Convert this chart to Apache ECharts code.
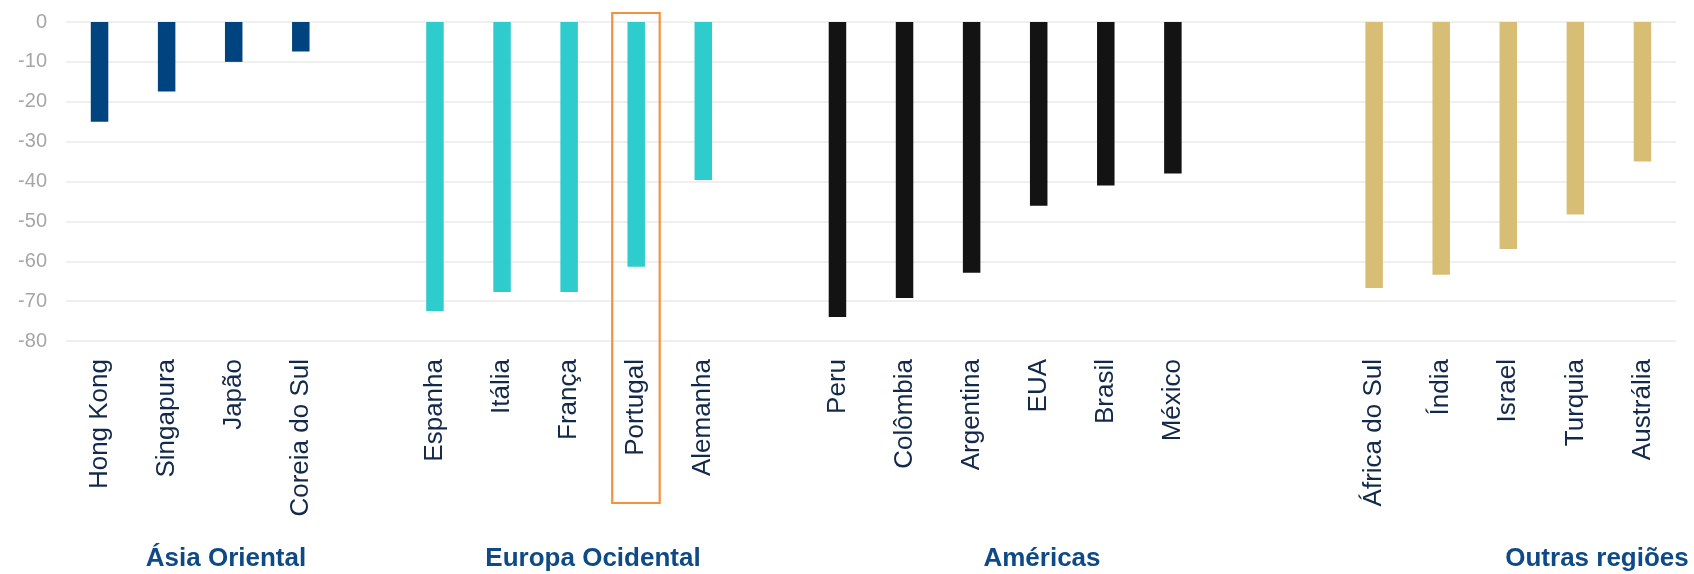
<!DOCTYPE html>
<html>
<head>
<meta charset="utf-8">
<script src="https://cdn.jsdelivr.net/npm/echarts@6/dist/echarts.min.js"></script>
<style>
  html, body { margin: 0; padding: 0; background: #ffffff; }
  #chart { width: 1694px; height: 574px; }
</style>
</head>
<body>
<div id="chart"></div>
<script>
// Countries per region, in drawing order
const asiaNames = ['Hong Kong', 'Singapura', 'Japão', 'Coreia do Sul'];
const asiaValues = [-25, -17.4, -10, -7.4];

const europeNames = ['Espanha', 'Itália', 'França', 'Portugal', 'Alemanha'];
const europeValues = [-72.5, -67.7, -67.7, -61.4, -39.6];

const americasNames = ['Peru', 'Colômbia', 'Argentina', 'EUA', 'Brasil', 'México'];
const americasValues = [-74, -69.2, -62.9, -46.1, -41, -38];

const otherNames = ['África do Sul', 'Índia', 'Israel', 'Turquia', 'Austrália'];
const otherValues = [-66.7, -63.4, -56.9, -48.3, -35];

const regionLabels = ['Ásia Oriental', 'Europa Ocidental', 'Américas', 'Outras regiões'];
const yTicks = [-80, -70, -60, -50, -40, -30, -20, -10, 0];

const regions = [
  { names: asiaNames, values: asiaValues, color: '#00447f', gapAfter: 1 },
  { names: europeNames, values: europeValues, color: '#2ecccc', gapAfter: 1 },
  { names: americasNames, values: americasValues, color: '#131313', gapAfter: 2 },
  { names: otherNames, values: otherValues, color: '#d8bd74', gapAfter: 0 }
];

// Flatten regions into one category axis, with blank slots between regions
const categories = [];
const barData = [];
let blank = 0;
regions.forEach(r => {
  r.names.forEach((n, i) => {
    categories.push(n);
    barData.push({ value: r.values[i], itemStyle: { color: r.color } });
  });
  for (let g = 0; g < r.gapAfter; g++) {
    categories.push(' '.repeat(++blank));
    barData.push('-');
  }
});

const chart = echarts.init(document.getElementById('chart'), null, { renderer: 'canvas' });
const FONT = '"Liberation Sans", Arial, sans-serif';

chart.setOption({
  animation: false,
  backgroundColor: '#ffffff',
  grid: { left: 66, right: 18, top: 22, bottom: 233, containLabel: false },
  xAxis: {
    type: 'category',
    data: categories,
    axisLine: { show: false, onZero: false },
    axisTick: { show: false },
    axisLabel: {
      interval: 0,
      rotate: 90,
      margin: 18,
      color: '#13294b',
      fontSize: 26,
      fontFamily: FONT
    }
  },
  yAxis: {
    type: 'value',
    min: yTicks[0],
    max: yTicks[yTicks.length - 1],
    interval: 10,
    axisLine: { show: false },
    axisTick: { show: false },
    splitLine: { lineStyle: { color: '#efefef', width: 2 } },
    axisLabel: { color: '#a6a6a6', fontSize: 20, margin: 19, fontFamily: FONT }
  },
  series: [{
    type: 'bar',
    data: barData,
    barWidth: 17.5
  }]
});

// Region titles under the country labels, and the highlight box around Portugal
const regionX = [226, 593, 1042, 1597];
const graphics = regionLabels.map((t, i) => ({
  type: 'text',
  x: regionX[i],
  y: 559,
  style: {
    text: t,
    fill: '#0e4a86',
    font: 'bold 26px ' + FONT,
    textAlign: 'center',
    textVerticalAlign: 'middle'
  }
}));

const px = chart.convertToPixel({ xAxisIndex: 0 }, 'Portugal');
graphics.push({
  type: 'rect',
  shape: { x: px - 24, y: 13, width: 47.5, height: 490 },
  style: { fill: 'none', stroke: '#f5913e', lineWidth: 2.2 }
});

chart.setOption({ graphic: graphics });
</script>
</body>
</html>
